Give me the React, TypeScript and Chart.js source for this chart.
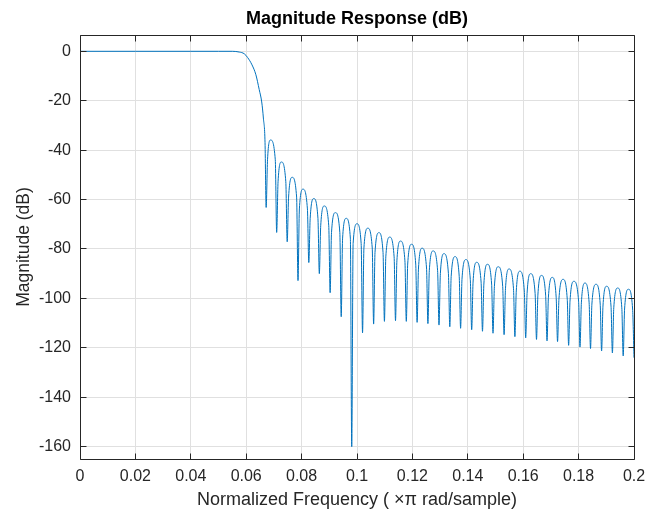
import React, { useEffect, useRef } from "react";
import { Chart, registerables } from "chart.js";

Chart.register(...registerables);

// ---- axis ticks ----
const xTickValues = [0, 0.02, 0.04, 0.06, 0.08, 0.1, 0.12, 0.14, 0.16, 0.18, 0.2];
const xTickLabels = ["0", "0.02", "0.04", "0.06", "0.08", "0.1", "0.12", "0.14", "0.16", "0.18", "0.2"];
const yTickValues = [0, -20, -40, -60, -80, -100, -120, -140, -160];
const yTickLabels = ["0", "-20", "-40", "-60", "-80", "-100", "-120", "-140", "-160"];

const titleText = "Magnitude Response (dB)";
const xLabelText = "Normalized Frequency ( ×π rad/sample)";
const yLabelText = "Magnitude (dB)";

// ---- passband + transition band (normalized freq, dB) ----
const passFreq = [0, 0.02, 0.04, 0.05, 0.055, 0.0575, 0.0593, 0.0605, 0.0621, 0.0635, 0.0647, 0.0656, 0.0662, 0.0668];
const passDb = [0, 0, 0, 0, 0, -0.3, -1.0, -2.5, -5.5, -9.5, -15.5, -20.5, -27.0, -37.0];

// ---- stopband nulls (last entry = end of plotted range) ----
const nullFreq = [
  0.0672, 0.071, 0.0748, 0.0787, 0.0826, 0.0864, 0.0903, 0.0943, 0.0981, 0.102,
  0.106, 0.1099, 0.1139, 0.1178, 0.1217, 0.1256, 0.1296, 0.1335, 0.1374, 0.1414,
  0.1453, 0.1491, 0.1531, 0.157, 0.1609, 0.1648, 0.1686, 0.1724, 0.1764, 0.1805,
  0.1843, 0.1883, 0.1922, 0.1961, 0.2,
];
const nullDb = [
  -63.2, -73.3, -77.1, -92.8, -85.5, -90.0, -97.7, -107.4, -160.0, -113.9,
  -110.4, -109.3, -109.0, -109.3, -109.7, -110.2, -110.8, -111.5, -112.1, -112.7,
  -113.3, -114.1, -114.7, -115.5, -116.0, -116.6, -117.2, -117.5, -119.0, -119.7,
  -120.3, -121.3, -122.1, -123.3, -124.0,
];

// ---- sidelobe peaks ----
const peakFreq = [
  0.0688, 0.0727, 0.0766, 0.0805, 0.0844, 0.0882, 0.0922, 0.0961, 0.1, 0.1039,
  0.1079, 0.1118, 0.1157, 0.1197, 0.1235, 0.1275, 0.1314, 0.1354, 0.1393, 0.1432,
  0.1471, 0.151, 0.1549, 0.1588, 0.1627, 0.1666, 0.1705, 0.1744, 0.1783, 0.1823,
  0.1863, 0.1901, 0.1941, 0.198,
];
const peakDb = [
  -35.9, -44.8, -51.0, -55.8, -59.6, -62.6, -65.3, -67.6, -69.8, -71.6,
  -73.4, -75.2, -76.8, -78.1, -79.7, -80.8, -81.9, -83.1, -84.3, -85.4,
  -86.2, -87.2, -88.1, -89.0, -90.0, -90.7, -91.5, -92.3, -93.1, -93.8,
  -94.3, -95.1, -95.8, -96.3,
];
// level of each lobe's flanks just beside its nulls
const shoulderDb = [
  -43.9, -52.8, -59.0, -63.8, -67.6, -70.6, -73.3, -75.6, -77.8, -79.6,
  -81.4, -83.2, -84.8, -86.1, -87.7, -88.8, -89.9, -91.1, -92.3, -93.4,
  -94.2, -95.2, -96.1, -97.0, -98.0, -98.7, -99.5, -100.3, -101.1, -101.8,
  -102.3, -103.1, -103.8, -104.3,
];
const shoulderGap = 0.0005;

const FONT = "'Liberation Sans', Arial, Helvetica, sans-serif";
const TEXT = "#262626";

function buildPoints() {
  const pts: { x: number; y: number }[] = [];
  passFreq.forEach((f, i) => pts.push({ x: f, y: passDb[i] }));
  for (let i = 0; i < peakFreq.length; i++) {
    pts.push({ x: nullFreq[i], y: nullDb[i] });
    pts.push({ x: nullFreq[i] + shoulderGap, y: shoulderDb[i] });
    pts.push({ x: peakFreq[i], y: peakDb[i] });
    pts.push({ x: nullFreq[i + 1] - shoulderGap, y: shoulderDb[i] });
  }
  pts.push({ x: nullFreq[nullFreq.length - 1], y: nullDb[nullDb.length - 1] });
  return pts;
}

const framePlugin = {
  id: "matlabFrame",
  afterDraw(chart: any) {
    const { ctx, chartArea, scales } = chart;
    const al = (p: number) => Math.round(p - 0.5) + 0.5;
    const L = al(chartArea.left);
    const R = al(chartArea.right);
    const T = al(chartArea.top);
    const B = al(chartArea.bottom);
    const len = 6;
    ctx.save();
    ctx.strokeStyle = TEXT;
    ctx.lineWidth = 1;
    ctx.beginPath();
    ctx.rect(L, T, R - L, B - T);
    for (const v of xTickValues) {
      const px = al(scales.x.getPixelForValue(v));
      ctx.moveTo(px, B);
      ctx.lineTo(px, B - len);
      ctx.moveTo(px, T);
      ctx.lineTo(px, T + len);
    }
    for (const v of yTickValues) {
      const py = al(scales.y.getPixelForValue(v));
      ctx.moveTo(L, py);
      ctx.lineTo(L + len, py);
      ctx.moveTo(R, py);
      ctx.lineTo(R - len, py);
    }
    ctx.stroke();
    // title centred over the plot box
    ctx.fillStyle = "#000000";
    ctx.font = `bold 18px ${FONT}`;
    ctx.textAlign = "center";
    ctx.textBaseline = "middle";
    ctx.fillText(titleText, (chartArea.left + chartArea.right) / 2, 19);
    ctx.restore();
  },
};

export default function App() {
  const canvasRef = useRef<HTMLCanvasElement | null>(null);

  useEffect(() => {
    document.body.style.margin = "0";
    const canvas = canvasRef.current;
    if (!canvas) return;
    const chart = new Chart(canvas, {
      type: "line",
      data: {
        datasets: [
          {
            data: buildPoints(),
            borderColor: "#0072BD",
            borderWidth: 1,
            pointRadius: 0,
            fill: false,
            cubicInterpolationMode: "monotone",
          },
        ],
      },
      options: {
        animation: false,
        responsive: true,
        maintainAspectRatio: false,
        layout: { padding: { left: 0, right: 13, top: 35, bottom: 0 } },
        plugins: {
          legend: { display: false },
          tooltip: { enabled: false },
          title: { display: false },
        },
        scales: {
          x: {
            type: "linear",
            min: 0,
            max: 0.2,
            afterBuildTicks: (s: any) => {
              s.ticks = xTickValues.map((v) => ({ value: v }));
            },
            afterFit: (s: any) => {
              s.height = 52;
              s.paddingLeft = 0;
              s.paddingRight = 0;
            },
            grid: { color: "#e0e0e0", lineWidth: 1, drawTicks: false },
            border: { display: false },
            ticks: {
              padding: 8,
              color: TEXT,
              font: { family: FONT, size: 16 },
              maxRotation: 0,
              autoSkip: false,
              callback: (_v: any, i: number) => xTickLabels[i],
            },
            title: {
              display: true,
              text: xLabelText,
              color: TEXT,
              font: { family: FONT, size: 18 },
              padding: { top: 0, bottom: 0 },
            },
          },
          y: {
            type: "linear",
            min: -165,
            max: 6.6,
            afterBuildTicks: (s: any) => {
              s.ticks = yTickValues.map((v) => ({ value: v }));
            },
            afterFit: (s: any) => {
              s.width = 80;
              s.paddingTop = 0;
              s.paddingBottom = 0;
            },
            grid: { color: "#e0e0e0", lineWidth: 1, drawTicks: false },
            border: { display: false },
            ticks: {
              padding: 9,
              color: TEXT,
              font: { family: FONT, size: 16 },
              autoSkip: false,
              callback: (_v: any, i: number) => yTickLabels[i],
            },
            title: {
              display: true,
              text: yLabelText,
              color: TEXT,
              font: { family: FONT, size: 17.5 },
              padding: { top: 14, bottom: 0 },
            },
          },
        },
      },
      plugins: [framePlugin],
    } as any);
    return () => chart.destroy();
  }, []);

  return (
    <div style={{ width: 647, height: 511, position: "relative", background: "#ffffff" }}>
      <canvas ref={canvasRef} />
    </div>
  );
}
